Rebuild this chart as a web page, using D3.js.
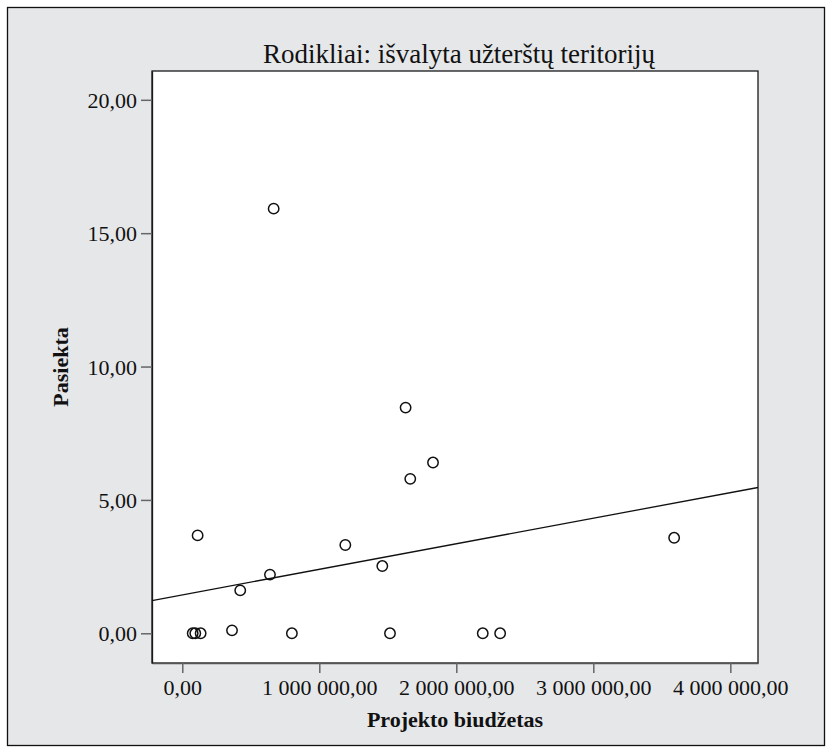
<!DOCTYPE html>
<html>
<head>
<meta charset="utf-8">
<script src="https://cdn.jsdelivr.net/npm/d3@7"></script>
<style>
  html, body { margin: 0; padding: 0; background: #fff; }
  svg { display: block; font-family: "Liberation Serif", "DejaVu Serif", serif; }
</style>
</head>
<body>
<svg></svg>
<script>
// chart data
const budget = [76000, 95000, 134000, 112000, 363000, 423000, 640000, 667000, 800000,
                1190000, 1460000, 1516000, 1630000, 1664000, 1830000, 2193000, 2320000, 3590000];
const pasiekta = [0, 0, 0, 3.67, 0.11, 1.61, 2.2, 15.92, 0,
                  3.31, 2.52, 0, 8.46, 5.79, 6.40, 0, 0, 3.58];
const xTicks = [0, 1000000, 2000000, 3000000, 4000000];
const yTicks = [0, 5, 10, 15, 20];
// fitted line as drawn (value = intercept + slope * budget)
const fitIntercept = 1.44;
const fitSlope = 0.958e-6;

const titleText = "Rodikliai: išvalyta užterštų teritorijų";
const xLabel = "Projekto biudžetas";
const yLabel = "Pasiekta";

const svgWidth = 832;
const svgHeight = 753;
const plot = { left: 152, right: 758, top: 71, bottom: 663 };

const svg = d3.select("svg")
    .attr("width", svgWidth)
    .attr("height", svgHeight);

// outer panel
svg.append("rect")
    .attr("x", 7.5).attr("y", 7.5)
    .attr("width", 817).attr("height", 738)
    .attr("fill", "#e6e7e9")
    .attr("stroke", "#111")
    .attr("stroke-width", 1.3);

// number format: 1 000 000,00
const lt = d3.formatLocale({ decimal: ",", thousands: " ", grouping: [3], currency: ["", ""] });
const fmt = lt.format(",.2f");

const xScale = d3.scaleLinear()
    .domain([-221000, 4202000])
    .range([plot.left, plot.right]);

const yScale = d3.scaleLinear()
    .domain([-1.114, 21.08])
    .range([plot.bottom, plot.top]);

// plot area
svg.append("rect")
    .attr("x", plot.left).attr("y", plot.top)
    .attr("width", plot.right - plot.left)
    .attr("height", plot.bottom - plot.top)
    .attr("fill", "#fff")
    .attr("stroke", "#1a1a1a")
    .attr("stroke-width", 1.3);

// axes
const xAxis = svg.append("g")
    .attr("transform", `translate(0,${plot.bottom})`)
    .call(d3.axisBottom(xScale).tickValues(xTicks).tickFormat(fmt).tickSize(10).tickSizeOuter(0));

const yAxis = svg.append("g")
    .attr("transform", `translate(${plot.left},0)`)
    .call(d3.axisLeft(yScale).tickValues(yTicks).tickFormat(fmt).tickSize(11).tickSizeOuter(0));

[xAxis, yAxis].forEach(g => {
    g.select(".domain").attr("stroke", "#555").attr("stroke-width", 1.3);
    g.selectAll(".tick line").attr("stroke", "#666").attr("stroke-width", 1.5);
    g.selectAll(".tick text")
        .attr("fill", "#111")
        .style("font-family", "'Liberation Serif', serif")
        .style("font-size", "22px");
});
xAxis.selectAll(".tick text").attr("dy", "1.0em").attr("y", 10);
yAxis.selectAll(".tick text").attr("x", -15).attr("dy", "0.35em");
yAxis.select(".domain").attr("stroke", "#1a1a1a");

// fit line
const fitX = xScale.domain();
svg.append("line")
    .attr("x1", xScale(fitX[0]))
    .attr("y1", yScale(fitIntercept + fitSlope * fitX[0]))
    .attr("x2", xScale(fitX[1]))
    .attr("y2", yScale(fitIntercept + fitSlope * fitX[1]))
    .attr("stroke", "#111")
    .attr("stroke-width", 1.3);

// points
svg.selectAll(".pt")
    .data(budget.map((b, i) => ({ x: b, y: pasiekta[i] })))
    .enter().append("circle")
    .attr("class", "pt")
    .attr("cx", d => xScale(d.x))
    .attr("cy", d => yScale(d.y))
    .attr("r", 5.2)
    .attr("fill", "none")
    .attr("stroke", "#111")
    .attr("stroke-width", 1.5);

// title and axis labels
svg.append("text")
    .attr("x", (plot.left + plot.right) / 2 + 4)
    .attr("y", 63)
    .attr("text-anchor", "middle")
    .style("font-size", "27px")
    .attr("fill", "#111")
    .text(titleText);

svg.append("text")
    .attr("x", (plot.left + plot.right) / 2)
    .attr("y", 727)
    .attr("text-anchor", "middle")
    .style("font-size", "22px")
    .style("font-weight", "bold")
    .attr("fill", "#111")
    .text(xLabel);

svg.append("text")
    .attr("transform", `translate(68,${(plot.top + plot.bottom) / 2}) rotate(-90)`)
    .attr("text-anchor", "middle")
    .style("font-size", "22px")
    .style("font-weight", "bold")
    .attr("fill", "#111")
    .text(yLabel);
</script>
</body>
</html>
